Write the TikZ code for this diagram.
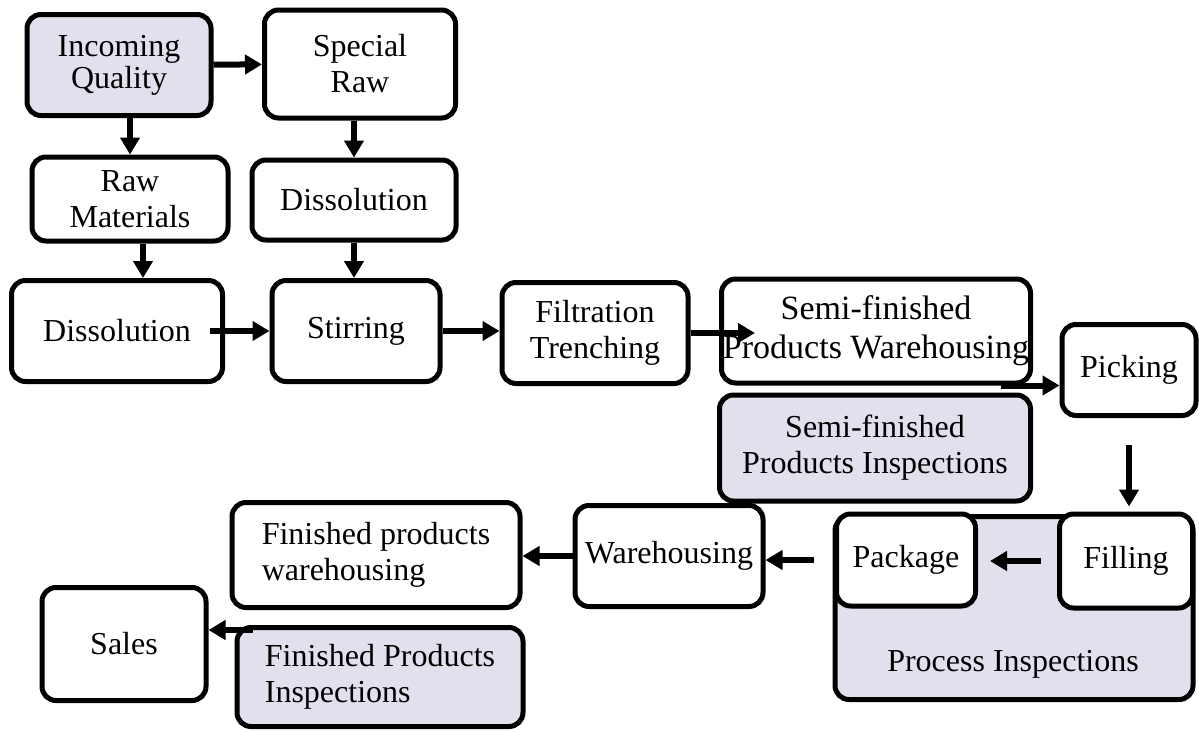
\documentclass[tikz,border=0pt]{standalone}
\usepackage{fontspec}
\setmainfont{Liberation Serif}
\usetikzlibrary{arrows.meta,positioning,calc}
\definecolor{insp}{RGB}{228,223,236}

\begin{document}
\begin{tikzpicture}[x=1pt,y=-1pt,
box/.style={
  draw,
  line width=5pt,
  rounded corners=14pt,
  align=center,
  inner sep=0pt,
  font=\fontsize{32}{36}\selectfont
},
chk/.style={
  box,
  fill=insp
},
flow/.style={
  line width=6pt,
  -{Triangle[length=17pt,width=19pt]}
}
]
\useasboundingbox (0,0) rectangle (1199,731);

\node[chk,minimum width=184pt,minimum height=101pt] at (119,65)
  (incoming) {\raisebox{-6pt}{\shortstack{Incoming\\Quality}}};
\node[box,minimum width=191pt,minimum height=108pt] at (360,64)
  (special) {Special\\Raw};
\node[box,minimum width=196pt,minimum height=84pt] at (130,199)
  (rawmat) {Raw\\Materials};
\node[box,minimum width=204pt,minimum height=80pt] at (354,200)
  (dissA) {Dissolution};
\node[box,minimum width=211pt,minimum height=101pt] at (117,331)
  (dissB) {Dissolution};
\node[box,minimum width=168pt,minimum height=101pt] at (356,331)
  (stir) {Stirring};
\node[box,minimum width=186pt,minimum height=101pt] at (595,333)
  (filt) {Filtration\\Trenching};
\node[box,font=\fontsize{34}{39}\selectfont,minimum width=309pt,minimum height=104pt] at (876,331)
  (semiwh) {Semi-finished\\Products Warehousing};
\node[box,minimum width=134pt,minimum height=91pt] at (1129,370)
  (pick) {Picking};
\node[chk,minimum width=311pt,minimum height=106pt] at (875,448)
  (semiinsp) {Semi-finished\\Products Inspections};

\node[chk,minimum width=358pt,minimum height=183pt] at (1014,608)
  (procinsp) {};
\node[font=\fontsize{32}{36}\selectfont] at (1013,664)
  (proclbl) {Process Inspections};
\node[box,fill=white,minimum width=139pt,minimum height=92pt] at (906,560)
  (pack) {Package};
\node[box,fill=white,minimum width=133pt,minimum height=94pt] at (1126,561)
  (filling) {Filling};

\node[box,minimum width=188pt,minimum height=101pt] at (669,556)
  (wh) {Warehousing};
\node[box,align=left,minimum width=288pt,minimum height=105pt] at (376,555)
  (finwh) {Finished products\\warehousing};
\node[box,minimum width=164pt,minimum height=113pt] at (124,644)
  (sales) {Sales};
\node[chk,align=left,minimum width=286pt,minimum height=99pt] at (380,677)
  (fininsp) {Finished Products\\Inspections};

\draw[flow] (incoming) -- (special);
\draw[flow] (rawmat.north |- incoming.south) -- (rawmat.north);
\draw[flow] (dissA.north |- special.south) -- (dissA.north);
\draw[flow] ([xshift=13pt]rawmat.south) -- ([xshift=13pt]rawmat.south |- dissB.north);
\draw[flow] (dissA.south) -- (dissA.south |- stir.north);
\draw[flow] ([xshift=-15pt]dissB.east) -- (stir.west);
\draw[flow] (stir.east) -- (stir.east -| filt.west);
\draw[flow] (filt.east) -- ([xshift=36pt]filt.east -| semiwh.west);
\draw[flow] ([xshift=-32pt]semiwh.south east) -- (semiwh.south east -| pick.west);
\draw[flow,shorten <=27pt,shorten >=5pt] (pick.south) -- (pick.south |- filling.north);
\draw[flow,shorten <=16pt,shorten >=12pt] (filling.west) -- (filling.west -| pack.east);
\draw[flow,shorten <=20pt] (pack.west) -- (pack.west -| wh.east);
\draw[flow] (wh.west) -- (wh.west -| finwh.east);
\draw[flow] ([xshift=18pt,yshift=-5pt]fininsp.north west) -- ([yshift=-5pt]fininsp.north west -| sales.east);
\end{tikzpicture}
\end{document}
